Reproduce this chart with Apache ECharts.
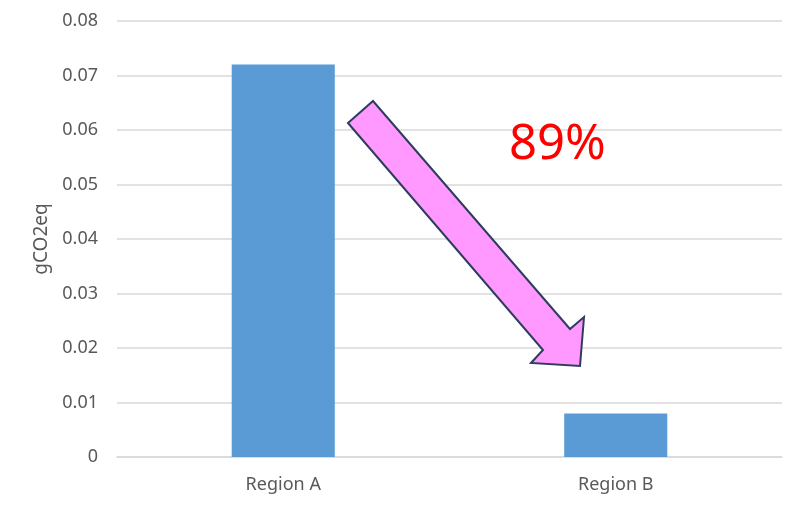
<!DOCTYPE html>
<html>
<head>
<meta charset="utf-8">
<script src="https://cdn.jsdelivr.net/npm/echarts@6/dist/echarts.min.js"></script>
<style>
  html, body { margin: 0; padding: 0; background: #fff; }
  #chart { width: 800px; height: 510px; }
</style>
</head>
<body>
<div id="chart"></div>
<script>
// données
const categories = ['Region A', 'Region B'];
const emissions = [0.072, 0.008];
const reductionLabel = '89%';

var chartDom = document.getElementById('chart');
var myChart = echarts.init(chartDom);

const font = 'Noto Sans';
const grey = '#595959';

var option = {
    animation: false,
    textStyle: { fontFamily: font },
    grid: { left: 117, right: 18, top: 21, bottom: 53 },
    xAxis: {
        type: 'category',
        data: categories,
        axisLine: { lineStyle: { color: '#d9d9d9', width: 1.5 } },
        axisTick: { show: false },
        axisLabel: { color: grey, fontSize: 18, margin: 19, fontFamily: font }
    },
    yAxis: {
        type: 'value',
        min: 0,
        max: 0.08,
        interval: 0.01,
        name: 'gCO2eq',
        nameLocation: 'middle',
        nameRotate: 90,
        nameGap: 64,
        nameTextStyle: { color: grey, fontSize: 19, fontFamily: font },
        axisLabel: {
            color: grey, fontSize: 18, margin: 19, fontFamily: font,
            formatter: v => (v === 0 ? '0' : v.toFixed(2))
        },
        splitLine: { lineStyle: { color: '#d9d9d9', width: 1.5 } }
    },
    series: [{
        type: 'bar',
        data: emissions,
        barWidth: '31%',
        itemStyle: { color: '#5b9bd5' }
    }],
    graphic: [
        // flèche de réduction
        {
            type: 'polygon',
            z: 100,
            shape: {
                points: [
                    [348, 123], [373, 101], [570, 329], [584, 317],
                    [580, 366], [531, 363], [543, 350]
                ]
            },
            style: { fill: '#ff99ff', stroke: '#2f3c5e', lineWidth: 2 }
        },
        {
            type: 'text',
            z: 100,
            left: 509,
            top: 121,
            style: {
                text: reductionLabel,
                fill: '#ff0000',
                font: '49px "Noto Sans"'
            }
        }
    ]
};

myChart.setOption(option);
window.addEventListener('resize', () => myChart.resize());
</script>
</body>
</html>
